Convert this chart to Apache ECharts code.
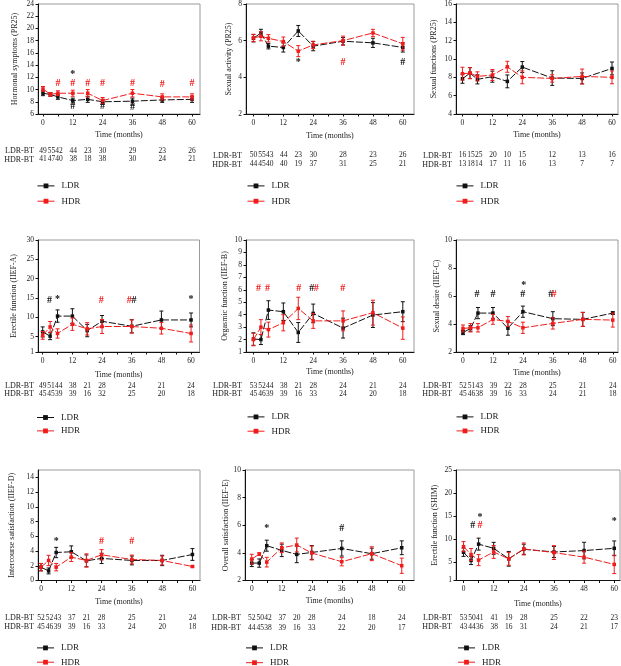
<!DOCTYPE html>
<html><head><meta charset="utf-8">
<script src="https://cdn.jsdelivr.net/npm/echarts@6/dist/echarts.min.js"></script>
<style>html,body{margin:0;padding:0;background:#fff}#c{width:621px;height:666px}</style>
</head><body><div id="c"></div><script>
// ---------- DATA ----------
const months = [0, 3, 6, 12, 18, 24, 36, 48, 60];
const tableCols = [0, 3.4, 6.5, 12.2, 18, 24, 36, 48, 60]; // column positions (months) of the patient-count table
const xLabelTicks = [0, 12, 24, 36, 48, 60];
const xMinorTicks = [0, 6, 12, 18, 24, 30, 36, 42, 48, 54, 60];

// Panel 1: Hormonal symptoms (PR25)
const p1Name = 'Hormonal symptoms (PR25)';
const p1YTicks = [6, 8, 10, 12, 14, 16, 18, 20, 22, 24];
const p1LDR = [9.4, 9.2, 8.8, 8.2, 8.4, 8.0, 8.1, 8.3, 8.4];
const p1LDRerr = [0.4, 0.3, 0.4, 0.4, 0.5, 0.4, 0.5, 0.4, 0.5];
const p1HDR = [10.1, 9.2, 9.4, 9.4, 9.4, 8.2, 9.4, 8.8, 8.8];
const p1HDRerr = [0.4, 0.3, 0.4, 0.5, 0.6, 0.5, 0.6, 0.5, 0.5];
const p1NL = [49, 55, 42, 44, 23, 30, 29, 23, 26];
const p1NH = [41, 47, 40, 38, 18, 38, 30, 24, 21];
const p1Marks = [[12, 12.5, '*', 'k'], [6, 11.0, '#', 'r'], [12, 11.0, '#', 'r'], [18, 11.0, '#', 'r'], [24, 11.0, '#', 'r'], [36, 11.0, '#', 'r'], [48, 10.8, '#', 'r'], [60, 11.0, '#', 'r'], [12, 7.2, '#', 'k'], [24, 7.2, '#', 'k'], [36, 7.1, '#', 'k']];

// Panel 2: Sexual activity (PR25)
const p2Name = 'Sexual activity (PR25)';
const p2YTicks = [2, 4, 6, 8];
const p2LDR = [6.13, 6.42, 5.7, 5.63, 6.53, 5.7, 5.97, 5.88, 5.63];
const p2LDRerr = [0.2, 0.2, 0.15, 0.25, 0.3, 0.25, 0.2, 0.25, 0.25];
const p2HDR = [6.15, 6.24, 6.13, 5.95, 5.43, 5.77, 6.0, 6.42, 5.83];
const p2HDRerr = [0.2, 0.25, 0.2, 0.25, 0.3, 0.2, 0.25, 0.2, 0.35];
const p2NL = [50, 55, 43, 44, 23, 30, 28, 23, 26];
const p2NH = [44, 45, 40, 40, 19, 37, 31, 25, 21];
const p2Marks = [[18, 4.83, '*', 'k'], [36, 4.83, '#', 'r'], [60, 4.83, '#', 'k']];

// Panel 3: Sexual functions (PR25)
const p3Name = 'Sexual functions (PR25)';
const p3YTicks = [4, 6, 8, 10, 12, 14, 16];
const p3LDR = [7.85, 8.46, 7.78, 8.07, 7.56, 9.12, 7.92, 7.88, 8.97];
const p3LDRerr = [0.5, 0.6, 0.5, 0.6, 0.7, 0.6, 0.8, 0.6, 0.7];
const p3HDR = [8.4, 8.46, 8.1, 8.25, 9.15, 8.0, 7.88, 8.1, 8.0];
const p3HDRerr = [0.7, 0.6, 0.5, 0.6, 0.6, 0.7, 0.4, 0.8, 0.7];
const p3NL = [16, 15, 25, 20, 10, 15, 12, 13, 16];
const p3NH = [13, 18, 14, 17, 11, 16, 13, 7, 7];
const p3Marks = [];

// Panel 4: Erectile function (IIEF-A)
const p4Name = 'Erectile function (IIEF-A)';
const p4YTicks = [1, 5, 10, 15, 20, 25, 30];
const p4LDR = [6.2, 5.1, 10.3, 10.3, 6.55, 8.95, 7.66, 9.3, 9.3];
const p4LDRerr = [1.3, 0.9, 1.6, 1.9, 1.6, 1.5, 1.7, 2.3, 1.8];
const p4HDR = [5.3, 7.5, 5.8, 8.2, 7.0, 7.6, 7.6, 7.15, 5.8];
const p4HDRerr = [1.0, 1.4, 1.2, 1.6, 1.6, 1.8, 1.7, 1.5, 2.2];
const p4NL = [49, 51, 44, 38, 21, 28, 24, 21, 24];
const p4NH = [45, 45, 39, 39, 16, 32, 25, 20, 18];
const p4Marks = [[2.7, 14.4, '#', 'k'], [6, 14.5, '*', 'k'], [23.7, 14.4, '#', 'r'], [35, 14.4, '#', 'r'], [36.9, 14.4, '#', 'k'], [60, 14.5, '*', 'k']];

// Panel 5: Orgasmic function (IIEF-B)
const p5Name = 'Orgasmic function (IIEF-B)';
const p5YTicks = [1, 2, 3, 4, 5, 6, 7, 8, 9, 10];
const p5LDR = [2.04, 2.0, 4.37, 4.24, 2.57, 4.1, 2.92, 3.97, 4.24];
const p5LDRerr = [0.5, 0.4, 0.75, 0.7, 0.8, 0.75, 0.8, 1.0, 0.8];
const p5HDR = [2.0, 3.0, 2.8, 3.35, 4.5, 3.5, 3.5, 4.16, 2.92];
const p5HDRerr = [0.5, 0.6, 0.6, 0.65, 0.9, 0.6, 0.8, 1.0, 0.9];
const p5NL = [53, 52, 44, 38, 21, 28, 24, 21, 24];
const p5NH = [45, 46, 39, 39, 16, 33, 24, 20, 18];
const p5Marks = [[2, 6.1, '#', 'r'], [5.6, 6.1, '#', 'r'], [18.2, 6.1, '#', 'r'], [23.4, 6.1, '#', 'k'], [25.2, 6.1, '#', 'r'], [35.9, 6.1, '#', 'r']];

// Panel 6: Sexual desire (IIEF-C)
const p6Name = 'Sexual desire (IIEF-C)';
const p6YTicks = [2, 4, 6, 8, 10];
const p6LDR = [3.39, 3.68, 4.78, 4.78, 3.7, 4.88, 4.38, 4.33, 4.78];
const p6LDRerr = [0.15, 0.2, 0.4, 0.4, 0.5, 0.4, 0.5, 0.5, 0.1];
const p6HDR = [3.68, 3.73, 3.73, 4.33, 4.18, 3.73, 4.04, 4.33, 4.28];
const p6HDRerr = [0.25, 0.3, 0.3, 0.35, 0.35, 0.4, 0.4, 0.5, 0.5];
const p6NL = [52, 51, 43, 39, 22, 28, 25, 21, 24];
const p6NH = [45, 46, 38, 39, 16, 33, 24, 21, 18];
const p6Marks = [[5.6, 6.1, '#', 'k'], [12, 6.1, '#', 'k'], [23.9, 6.1, '#', 'k'], [24.3, 6.75, '*', 'k'], [35.2, 6.1, '#', 'k'], [36.5, 6.1, '#', 'r']];

// Panel 7: Intercourse satisfaction (IIEF-D)
const p7Name = 'Intercourse satisfaction (IIEF-D)';
const p7YTicks = [0, 2, 4, 6, 8, 10, 12, 14];
const p7LDR = [1.81, 1.3, 3.8, 3.9, 2.67, 3.0, 2.72, 2.72, 3.53];
const p7LDRerr = [0.5, 0.4, 0.7, 0.8, 0.8, 0.7, 0.6, 0.7, 0.8];
const p7HDR = [1.81, 2.72, 1.81, 3.17, 2.72, 3.49, 2.85, 2.72, 1.9];
const p7HDRerr = [0.5, 0.7, 0.5, 0.6, 0.9, 0.7, 0.6, 0.6, 0.1];
const p7NL = [52, 52, 43, 37, 21, 28, 25, 21, 24];
const p7NH = [45, 46, 39, 39, 16, 33, 24, 20, 18];
const p7Marks = [[6, 5.3, '*', 'k'], [24, 5.3, '#', 'r'], [36, 5.3, '#', 'r']];

// Panel 8: Overall satisfaction (IIEF-E)
const p8Name = 'Overall satisfaction (IIEF-E)';
const p8YTicks = [2, 4, 6, 8, 10];
const p8LDR = [3.26, 3.26, 4.52, 4.18, 3.89, 4.03, 4.32, 3.94, 4.37];
const p8LDRerr = [0.25, 0.3, 0.4, 0.45, 0.6, 0.5, 0.55, 0.4, 0.5];
const p8HDR = [3.55, 3.91, 3.33, 4.37, 4.57, 3.99, 3.36, 3.94, 3.07];
const p8HDRerr = [0.35, 0.1, 0.35, 0.35, 0.5, 0.5, 0.3, 0.5, 0.55];
const p8NL = [52, 50, 42, 37, 20, 28, 24, 18, 24];
const p8NH = [44, 45, 38, 39, 16, 33, 22, 20, 17];
const p8Marks = [[6, 5.77, '*', 'k'], [36, 5.8, '#', 'k']];

// Panel 9: Erectile function (SHIM)
const p9Name = 'Erectile function (SHIM)';
const p9YTicks = [1, 5, 10, 15, 20, 25];
const p9LDR = [7.14, 5.36, 8.9, 7.99, 5.71, 7.78, 7.2, 7.5, 7.99];
const p9LDRerr = [0.9, 0.9, 1.3, 1.3, 1.6, 1.1, 1.2, 1.8, 1.6];
const p9HDR = [8.35, 6.64, 5.43, 7.2, 5.71, 7.85, 7.07, 6.07, 4.5];
const p9HDRerr = [1.1, 1.3, 1.2, 1.4, 1.4, 1.3, 1.5, 1.3, 2.0];
const p9NL = [53, 50, 41, 41, 19, 28, 25, 22, 23];
const p9NH = [43, 44, 36, 38, 16, 31, 24, 21, 17];
const p9Marks = [[3.7, 13.0, '#', 'k'], [6.6, 14.7, '*', 'k'], [6.6, 13.0, '#', 'r'], [60, 13.9, '*', 'k']];

const panelData = [
  {name: p1Name, yTicks: p1YTicks, ldr: p1LDR, ldrErr: p1LDRerr, hdr: p1HDR, hdrErr: p1HDRerr, nL: p1NL, nH: p1NH, marks: p1Marks},
  {name: p2Name, yTicks: p2YTicks, ldr: p2LDR, ldrErr: p2LDRerr, hdr: p2HDR, hdrErr: p2HDRerr, nL: p2NL, nH: p2NH, marks: p2Marks},
  {name: p3Name, yTicks: p3YTicks, ldr: p3LDR, ldrErr: p3LDRerr, hdr: p3HDR, hdrErr: p3HDRerr, nL: p3NL, nH: p3NH, marks: p3Marks},
  {name: p4Name, yTicks: p4YTicks, ldr: p4LDR, ldrErr: p4LDRerr, hdr: p4HDR, hdrErr: p4HDRerr, nL: p4NL, nH: p4NH, marks: p4Marks},
  {name: p5Name, yTicks: p5YTicks, ldr: p5LDR, ldrErr: p5LDRerr, hdr: p5HDR, hdrErr: p5HDRerr, nL: p5NL, nH: p5NH, marks: p5Marks},
  {name: p6Name, yTicks: p6YTicks, ldr: p6LDR, ldrErr: p6LDRerr, hdr: p6HDR, hdrErr: p6HDRerr, nL: p6NL, nH: p6NH, marks: p6Marks},
  {name: p7Name, yTicks: p7YTicks, ldr: p7LDR, ldrErr: p7LDRerr, hdr: p7HDR, hdrErr: p7HDRerr, nL: p7NL, nH: p7NH, marks: p7Marks},
  {name: p8Name, yTicks: p8YTicks, ldr: p8LDR, ldrErr: p8LDRerr, hdr: p8HDR, hdrErr: p8HDRerr, nL: p8NL, nH: p8NH, marks: p8Marks},
  {name: p9Name, yTicks: p9YTicks, ldr: p9LDR, ldrErr: p9LDRerr, hdr: p9HDR, hdrErr: p9HDRerr, nL: p9NL, nH: p9NH, marks: p9Marks}
];

// ---------- LAYOUT ----------
// legY: vertical centres of the LDR / HDR legend entries
const layout = [
  {left: 38, top: 3, width: 162, height: 111, xMin: -2, xMax: 63.2, yMin: 6, yMax: 24, nameGap: 19, timeGap: 17, rows: [37, 45.5], legY: [185.7, 201], legLeft: 37},
  {left: 246, top: 3, width: 168, height: 111, xMin: -3, xMax: 64.5, yMin: 2, yMax: 8, nameGap: 13.5, timeGap: 18, rows: [41.5, 50.5], legY: [185.7, 201], legLeft: 247},
  {left: 456, top: 3, width: 162, height: 111, xMin: -2.6, xMax: 62.4, yMin: 4, yMax: 16, nameGap: 18, timeGap: 16.5, rows: [41.5, 50.5], legY: [185.7, 201], legLeft: 456},
  {left: 38, top: 240, width: 161.5, height: 112, xMin: -1.9, xMax: 63.4, yMin: 1, yMax: 30, nameGap: 20, timeGap: 18.5, rows: [33.7, 42.3], legY: [417.3, 430.7], legLeft: 36.5},
  {left: 246, top: 240, width: 168, height: 112, xMin: -3, xMax: 64.5, yMin: 1, yMax: 10, nameGap: 17, timeGap: 16, rows: [33.7, 42.3], legY: [416.7, 431], legLeft: 247},
  {left: 456, top: 240, width: 162, height: 112, xMin: -2.8, xMax: 62.1, yMin: 2, yMax: 10, nameGap: 12, timeGap: 17, rows: [33.7, 42.3], legY: [416.7, 430.7], legLeft: 456},
  {left: 38, top: 470, width: 162, height: 110.5, xMin: -1.2, xMax: 63, yMin: 0, yMax: 15, nameGap: 22, timeGap: 17.5, rows: [37.7, 46.7], legY: [647.7, 662], legLeft: 36.5},
  {left: 245, top: 470, width: 169, height: 110.5, xMin: -2.7, xMax: 64.9, yMin: 2, yMax: 10, nameGap: 13, timeGap: 16.5, rows: [37.7, 47.2], legY: [647.7, 662.5], legLeft: 245.5},
  {left: 456, top: 470, width: 164, height: 110.5, xMin: -3, xMax: 62.3, yMin: 1, yMax: 25, nameGap: 17, timeGap: 19.5, rows: [37.7, 46.7], legY: [647.7, 662], legLeft: 457.5}
];

const FONT = "'Liberation Serif', 'DejaVu Serif', serif";
const BLACK = '#111111';
const RED = '#f01c1c';
const TXT = '#222222';

function errRender(color) {
  return function (params, api) {
    const x = api.value(0), lo = api.value(1), hi = api.value(2);
    const a = api.coord([x, lo]), b = api.coord([x, hi]);
    const w = 2;
    const st = {stroke: color, lineWidth: 1};
    return {type: 'group', children: [
      {type: 'line', shape: {x1: a[0], y1: a[1], x2: b[0], y2: b[1]}, style: st},
      {type: 'line', shape: {x1: a[0] - w, y1: a[1], x2: a[0] + w, y2: a[1]}, style: st},
      {type: 'line', shape: {x1: b[0] - w, y1: b[1], x2: b[0] + w, y2: b[1]}, style: st}
    ]};
  };
}

const grid = [], xAxis = [], yAxis = [], series = [], legend = [];
panelData.forEach(function (p, i) {
  const L = layout[i];
  grid.push({left: L.left, top: L.top, width: L.width, height: L.height, show: true, borderColor: '#9a9a9a', borderWidth: 1, containLabel: false});
  xAxis.push({
    type: 'value', gridIndex: i, min: L.xMin, max: L.xMax,
    name: 'Time (months)', nameLocation: 'middle', nameGap: L.timeGap,
    nameTextStyle: {fontFamily: FONT, fontSize: 8, color: TXT},
    axisLine: {show: true, onZero: false, lineStyle: {color: BLACK, width: 1}},
    axisTick: {show: true, length: 2.5, customValues: xMinorTicks, lineStyle: {color: BLACK}},
    axisLabel: {customValues: xLabelTicks, fontFamily: FONT, fontSize: 7.5, color: TXT, margin: 5},
    splitLine: {show: false}
  });
  yAxis.push({
    type: 'value', gridIndex: i, min: L.yMin, max: L.yMax,
    name: p.name, nameLocation: 'middle', nameGap: L.nameGap,
    nameTextStyle: {fontFamily: FONT, fontSize: 8, color: TXT},
    axisLine: {show: true, onZero: false, lineStyle: {color: BLACK, width: 1}},
    axisTick: {show: true, length: 2.5, customValues: p.yTicks, lineStyle: {color: BLACK}},
    axisLabel: {customValues: p.yTicks, fontFamily: FONT, fontSize: 7.5, color: TXT, margin: 4},
    splitLine: {show: false}
  });
  const lineCommon = {type: 'line', xAxisIndex: i, yAxisIndex: i, symbol: 'rect', symbolSize: 3.5, animation: false, silent: true};
  series.push(Object.assign({}, lineCommon, {name: 'LDR', data: months.map((m, k) => [m, p.ldr[k]]), z: 3,
    lineStyle: {color: BLACK, width: 1, type: [7, 2]}, itemStyle: {color: BLACK}}));
  series.push(Object.assign({}, lineCommon, {name: 'HDR', data: months.map((m, k) => [m, p.hdr[k]]), z: 4,
    lineStyle: {color: RED, width: 1, type: [7, 2]}, itemStyle: {color: RED}}));
  series.push({type: 'custom', name: 'errL' + i, xAxisIndex: i, yAxisIndex: i, animation: false, silent: true, z: 3,
    data: months.map((m, k) => [m, p.ldr[k] - p.ldrErr[k], p.ldr[k] + p.ldrErr[k]]), renderItem: errRender(BLACK)});
  series.push({type: 'custom', name: 'errH' + i, xAxisIndex: i, yAxisIndex: i, animation: false, silent: true, z: 4,
    data: months.map((m, k) => [m, p.hdr[k] - p.hdrErr[k], p.hdr[k] + p.hdrErr[k]]), renderItem: errRender(RED)});
  // significance marks
  const marks = p.marks;
  series.push({type: 'custom', name: 'marks' + i, xAxisIndex: i, yAxisIndex: i, animation: false, silent: true, z: 5,
    data: marks.map(mk => [mk[0], mk[1]]),
    renderItem: function (params, api) {
      const mk = marks[params.dataIndex];
      const pt = api.coord([api.value(0), api.value(1)]);
      return {type: 'text', x: pt[0], y: pt[1], style: {text: mk[2], fill: mk[3] === 'r' ? RED : BLACK,
        font: 'bold 10px ' + FONT, align: 'center', verticalAlign: 'middle'}};
    }});
  // patient count table under the axis
  const nL = p.nL, nH = p.nH, rows = L.rows;
  series.push({type: 'custom', name: 'table' + i, xAxisIndex: i, yAxisIndex: i, animation: false, silent: true, clip: false,
    data: tableCols.map(m => [m, L.yMin]),
    renderItem: function (params, api) {
      const k = params.dataIndex;
      const cs = params.coordSys;
      const x = api.coord([api.value(0), api.value(1)])[0];
      const base = cs.y + cs.height;
      const ts = {font: '7.5px ' + FONT, fill: TXT, align: 'center', verticalAlign: 'middle'};
      const ch = [
        {type: 'text', x: x, y: base + rows[0], style: Object.assign({}, ts, {text: String(nL[k])})},
        {type: 'text', x: x, y: base + rows[1], style: Object.assign({}, ts, {text: String(nH[k])})}
      ];
      if (k === 0) {
        const ls = Object.assign({}, ts, {font: '8px ' + FONT, align: 'right'});
        ch.push({type: 'text', x: cs.x - 4, y: base + rows[0], style: Object.assign({}, ls, {text: 'LDR-BT'})});
        ch.push({type: 'text', x: cs.x - 4, y: base + rows[1], style: Object.assign({}, ls, {text: 'HDR-BT'})});
      }
      return {type: 'group', children: ch};
    }});
  ['LDR', 'HDR'].forEach(function (nm, j) {
    legend.push({
      data: [nm], orient: 'vertical', left: L.legLeft, top: L.legY[j] - 4.3,
      itemWidth: 17, itemHeight: 6, selectedMode: false, padding: 0,
      lineStyle: {type: 'solid', width: 1}, itemStyle: {borderWidth: 0},
      textStyle: {fontFamily: FONT, fontSize: 9, color: TXT, padding: [0, 0, 0, 2]}
    });
  });
});

const chart = echarts.init(document.getElementById('c'), null, {renderer: 'canvas'});
chart.setOption({
  animation: false,
  backgroundColor: '#ffffff',
  grid: grid, xAxis: xAxis, yAxis: yAxis, series: series, legend: legend,
  tooltip: {show: false}
});
</script></body></html>
